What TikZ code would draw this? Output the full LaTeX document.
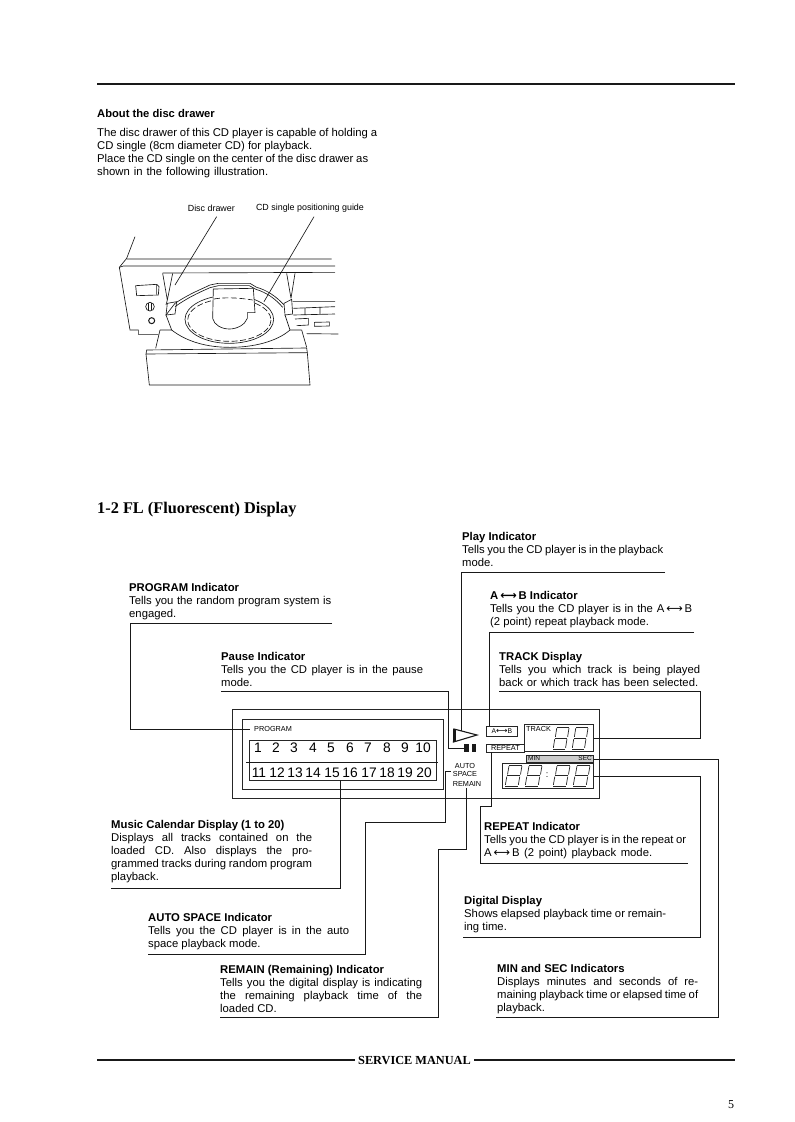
\documentclass[tikz,border=0pt]{standalone}
\usepackage{fontspec}
\setmainfont{Liberation Sans}
\newfontfamily\serifb{Liberation Serif}
\newfontfamily\djv{DejaVu Sans}
\newcommand\J[2]{\makebox[#1pt][s]{#2}}
\newcommand\ab{{\djv\fontsize{11.5}{9}\selectfont\,⟷\,}}
\newcommand\F{\rule{0pt}{10pt}}
% seven-segment digit: left-bottom x,y ; width, height
\newcommand\segd[4]{%
\begin{scope}[shift={(#1,#2)},x=#3pt,y=#4pt,line width=.7pt,black!85]
\draw (.24,1)--(.96,1) (.12,.5)--(.84,.5) (0,0)--(.72,0);
\draw (.02,.05)--(.1,.45) (.14,.55)--(.22,.95) (.74,.05)--(.82,.45) (.86,.55)--(.94,.95);
\end{scope}}
\tikzset{
 txt/.style={anchor=north west,inner sep=0pt,align=left,font=\fontsize{11.3}{13}\selectfont,text=black},
 lead/.style={line width=.75pt,black!90},
 rulel/.style={line width=1.1pt,black!90},
 boxn/.style={draw,line width=.8pt,black!85,inner sep=0pt,anchor=north west},
 tiny/.style={inner sep=0pt,font=\fontsize{7.3}{7.5}\selectfont,text=black},
 num/.style={inner sep=0pt,font=\fontsize{13.8}{15}\selectfont,text=black},
 art/.style={line width=.65pt,black!90},
 small/.style={inner sep=0pt,font=\fontsize{8.9}{10}\selectfont,text=black}
}
\begin{document}
\begin{tikzpicture}[x=1pt,y=-1pt]
\useasboundingbox[fill=white] (0,0) rectangle (795,1122);
% top rule
\coordinate (ruleA) at (97,84); \coordinate (ruleB) at (735,84);
\draw[rulel] (ruleA)--(ruleB);
\node[txt,font=\fontsize{11.2}{13}\selectfont] (about) at (97,107) {\F\textbf{About the disc drawer}};
\node[txt] (aboutb) at (97,126) {\F\J{280}{The disc drawer of this CD player is capable of holding a}\\
\J{215}{CD single (8cm diameter CD) for playback.}\\
\J{271}{Place the CD single on the center of the disc drawer as}\\
\J{171}{shown in the following illustration.}};
% illustration
\begin{scope}[shift={(90,190)},x=.33333pt,y=-.33333pt,art]
\node[small] (ldrawer) at (364,55) {Disc drawer};
\node[small] (lguide) at (660,55) {CD single positioning guide};
\coordinate (ld) at (380,80); \coordinate (lg) at (672,80);
% cabinet
\draw (135,140)--(110,205)--(88,232)--(120,420)--(145,420)--(145,433)--(205,433);
\draw (110,207)--(725,207) (88,232)--(100,228)--(735,228) (218,249)--(735,247);
\draw (218,250)--(232,330) (248,250)--(232,330)--(228,345);
\draw (590,250)--(603,325) (615,250)--(603,325);
% button
\draw (137,287)--(200,283)--(207,290)--(205,315)--(140,317)--cycle (137,287)--(140,317) (200,283)--(200,312);
\draw (180,350) circle [radius=13]; \draw (176,340)--(176,362) (184,338)--(184,360);
\draw[line width=1pt] (185,392) circle [radius=9];
% right part
\draw (608,335)--(735,335) (610,355)--(735,350) (610,375)--(735,372) (645,355)--(645,375) (690,352)--(690,372);
\draw (615,387)--(655,385)--(655,405)--(620,407);
\draw (673,397)--(718,396)--(718,408)--(673,409)--cycle;
\draw (650,431)--(745,432);
% tray rim
\draw (228,375)--(255,340) .. controls (300,310) and (340,295) .. (360,285)--(385,280)--(480,280)--(500,292) .. controls (530,300) and (560,320) .. (582,345);
\draw (255,350) .. controls (300,318) and (340,302) .. (360,293)--(385,287)--(478,287)--(498,298) .. controls (530,308) and (555,325) .. (578,352);
\draw (232,340)--(260,335)--(255,372)--(228,375)--cycle;
\draw (582,340)--(605,328)--(608,372)--(585,375)--cycle;
% tray bottom
\draw (245,420) .. controls (290,455) and (350,472) .. (420,472) .. controls (490,472) and (560,455) .. (600,420);
\draw (210,420)--(245,420)--(228,375) (635,420)--(600,420)--(585,375);
\draw (197,475)--(210,420) (650,472)--(635,420);
% disc
\draw[fill=white] (418,388) ellipse [x radius=133,y radius=72];
\draw[dashed,dash pattern=on 6pt off 2.5pt] (418,390) ellipse [x radius=125,y radius=64];
% flap
\draw[fill=white] (370,297)--(490,295)--(495,368)--(472,368)--(472,385) .. controls (465,405) and (440,417) .. (418,417) .. controls (395,417) and (372,405) .. (368,385)--cycle;
\draw[dashed,dash pattern=on 6pt off 2.5pt] (372,327) .. controls (400,322) and (440,322) .. (488,330);
% drawer front
\draw (170,480)--(650,474)--(652,488)--(168,492)--cycle;
\draw (168,492)--(178,585)--(660,585)--(652,488);
% leaders
\coordinate (ld2) at (255,285); \coordinate (lg2) at (522,335);
\draw (ld)--(ld2);
\draw (lg)--(lg2);
\end{scope}
% section heading
\node[inner sep=0pt,anchor=base west,font=\serifb\bfseries\fontsize{16.3}{18}\selectfont] (sect) at (97,513) {1-2 FL (Fluorescent) Display};
% text blocks
\node[txt] (tprog) at (129,581) {\F\textbf{PROGRAM Indicator}\\ \J{202}{Tells you the random program system is}\\ engaged.};
\node[txt] (tpause) at (221,650) {\F\textbf{Pause Indicator}\\ \J{202}{Tells you the CD player is in the pause}\\ mode.};
\node[txt] (tplay) at (462,530) {\F\textbf{Play Indicator}\\ \J{201}{Tells you the CD player is in the playback}\\ mode.};
\node[txt] (tab) at (490,589) {\F\textbf{A\ab B Indicator}\\ \J{202}{Tells you the CD player is in the A\ab B}\\ (2 point) repeat playback mode.};
\node[txt] (ttrack) at (499,650) {\F\textbf{TRACK Display}\\ \J{201}{Tells you which track is being played}\\ \J{199}{back or which track has been selected.}};
\node[txt] (tmusic) at (111,818) {\F\textbf{Music Calendar Display (1 to 20)}\\ \J{201}{Displays all tracks contained on the}\\ \J{201}{loaded CD. Also displays the pro-}\\ \J{201}{grammed tracks during random program}\\ playback.};
\node[txt] (tauto) at (148,911) {\F\textbf{AUTO SPACE Indicator}\\ \J{201}{Tells you the CD player is in the auto}\\ space playback mode.};
\node[txt] (tremain) at (220,963) {\F\textbf{REMAIN (Remaining) Indicator}\\ \J{202}{Tells you the digital display is indicating}\\ \J{202}{the remaining playback time of the}\\ loaded CD.};
\node[txt] (trepeat) at (484,820) {\F\textbf{REPEAT Indicator}\\ \J{202}{Tells you the CD player is in the repeat or}\\ \J{168}{A\ab B (2 point) playback mode.}};
\node[txt] (tdigital) at (464,894) {\F\textbf{Digital Display}\\ \J{202}{Shows elapsed playback time or remain-}\\ ing time.};
\node[txt] (tmin) at (497,962) {\F\textbf{MIN and SEC Indicators}\\ \J{201}{Displays minutes and seconds of re-}\\ \J{201}{maining playback time or elapsed time of}\\ playback.};
% display panel
\node[boxn,minimum width=367pt,minimum height=89pt] (outer) at (232,709) {};
\node[boxn,minimum width=201pt,minimum height=70pt] (inner) at (242,719) {};
\node[boxn,minimum width=187pt,minimum height=40pt] (numbox) at (249,740) {};
\coordinate (divA) at (246,762); \coordinate (divB) at (438,762);
\draw[lead] (divA)--(divB);
\node[tiny,anchor=west] (prog) at (254,729) {PROGRAM};
\foreach \n/\x in {1/258,2/276,3/294,4/313,5/331,6/350,7/368,8/387,9/405,10/423}{\node[num] (n\n) at (\x,748) {\n};}
\foreach \n/\x in {11/259,12/277,13/295,14/313,15/332,16/350,17/369,18/387,19/405,20/424}{\node[num] (n\n) at (\x,773) {\n};}
% play, pause
\coordinate (playtop) at (461.5,731);
\draw[line width=1.1pt,black!90,line join=miter] (454,729)--(477,735)--(453.5,742)--cycle;
\draw[line width=2.2pt,black!90] (454.5,729)--(454.5,742);
\node[fill=black!90,inner sep=0pt,minimum width=4.5pt,minimum height=8pt] (barA) at (466.5,748) {};
\node[fill=black!90,inner sep=0pt,minimum width=4.5pt,minimum height=8pt] (barB) at (474,748) {};
\node[tiny] (auto) at (465,766) {AUTO};
\node[tiny] (space) at (465,773.5) {SPACE};
\node[tiny] (remain) at (467,784) {REMAIN};
% A-B, repeat
\node[boxn,minimum width=31pt,minimum height=10pt,font=\fontsize{6.8}{7}\selectfont,text=black] (abbox) at (486,726) {A{\djv\fontsize{8}{6}\selectfont ⟷}B};
\node[boxn,minimum width=38pt,minimum height=8pt,font=\fontsize{7.3}{7}\selectfont,text=black] (repbox) at (486,744) {REPEAT};
% track
\node[boxn,minimum width=69pt,minimum height=27pt] (trackbox) at (524,724) {};
\node[tiny,anchor=west] (tracklbl) at (526,729) {TRACK};
\segd{553}{749}{17}{22}
\segd{572}{749}{17}{22}
% min sec
\node[boxn,fill=black!20,minimum width=67pt,minimum height=7pt] (minsec) at (526,755) {};
\node[tiny,anchor=west,font=\fontsize{6.5}{7}\selectfont] (minl) at (528,758.5) {MIN};
\node[tiny,anchor=east,font=\fontsize{6.5}{7}\selectfont] (secl) at (592,758.5) {SEC};
% digital
\node[boxn,minimum width=91pt,minimum height=25pt] (digbox) at (502,763) {};
\segd{505}{786}{18}{21}
\segd{525}{786}{18}{21}
\node[inner sep=0pt,font=\fontsize{9}{9}\selectfont] (colon) at (547,775) {:};
\segd{553}{786}{18}{21}
\segd{573}{786}{18}{21}
% leaders
\coordinate (p1) at (332,623); \coordinate (p2) at (130,623); \coordinate (p3) at (250,729);
\draw[lead] (p1)--(p2)|-(p3);
\coordinate (q1) at (221,691); \coordinate (q2) at (448,691);
\draw[lead] (q1)--(q2)|-(barA.west);
\coordinate (r1) at (665,572); \coordinate (r2) at (461.5,572);
\draw[lead] (r1)--(r2)--(playtop);
\coordinate (s1) at (694,632); \coordinate (s2) at (489,632); \coordinate (s3) at (489,726);
\draw[lead] (s1)--(s2)--(s3);
\coordinate (t1) at (499,691); \coordinate (t2) at (700,691);
\draw[lead] (t1)--(t2)|-(trackbox.east);
\coordinate (m1) at (111,888); \coordinate (m2) at (340,888); \coordinate (m3) at (340,780);
\draw[lead] (m1)--(m2)--(m3);
\coordinate (u1) at (148,954); \coordinate (u2) at (365,954); \coordinate (u3) at (365,822); \coordinate (u4) at (445,822); \coordinate (u5) at (445,771); \coordinate (u6) at (451,771);
\draw[lead] (u1)--(u2)--(u3)--(u4)--(u5)--(u6);
\coordinate (v1) at (220,1017); \coordinate (v2) at (438,1017); \coordinate (v3) at (438,849); \coordinate (v4) at (466,849); \coordinate (v5) at (466,788);
\draw[lead] (v1)--(v2)--(v3)--(v4)--(v5);
\coordinate (w1) at (491,752); \coordinate (w2) at (491,806); \coordinate (w3) at (480,806); \coordinate (w4) at (480,863); \coordinate (w5) at (688,863);
\draw[lead] (w1)--(w2)--(w3)--(w4)--(w5);
\coordinate (x1) at (463,937); \coordinate (x2) at (700,937);
\draw[lead] (x1)--(x2)|-(digbox.east);
\coordinate (y1) at (496,1017); \coordinate (y2) at (718,1017);
\draw[lead] (y1)--(y2)|-(minsec.east);
% footer
\node[inner sep=0pt,font=\serifb\bfseries\fontsize{12.3}{14}\selectfont] (svc) at (414.5,1061) {SERVICE MANUAL};
\coordinate (fa) at (97,1060); \coordinate (fa2) at (355,1060); \coordinate (fb2) at (474,1060); \coordinate (fb) at (735,1060);
\draw[rulel] (fa)--(fa2) (fb2)--(fb);
\node[inner sep=0pt,font=\serifb\fontsize{12}{14}\selectfont] (pg) at (731,1105) {5};
\end{tikzpicture}
\end{document}
